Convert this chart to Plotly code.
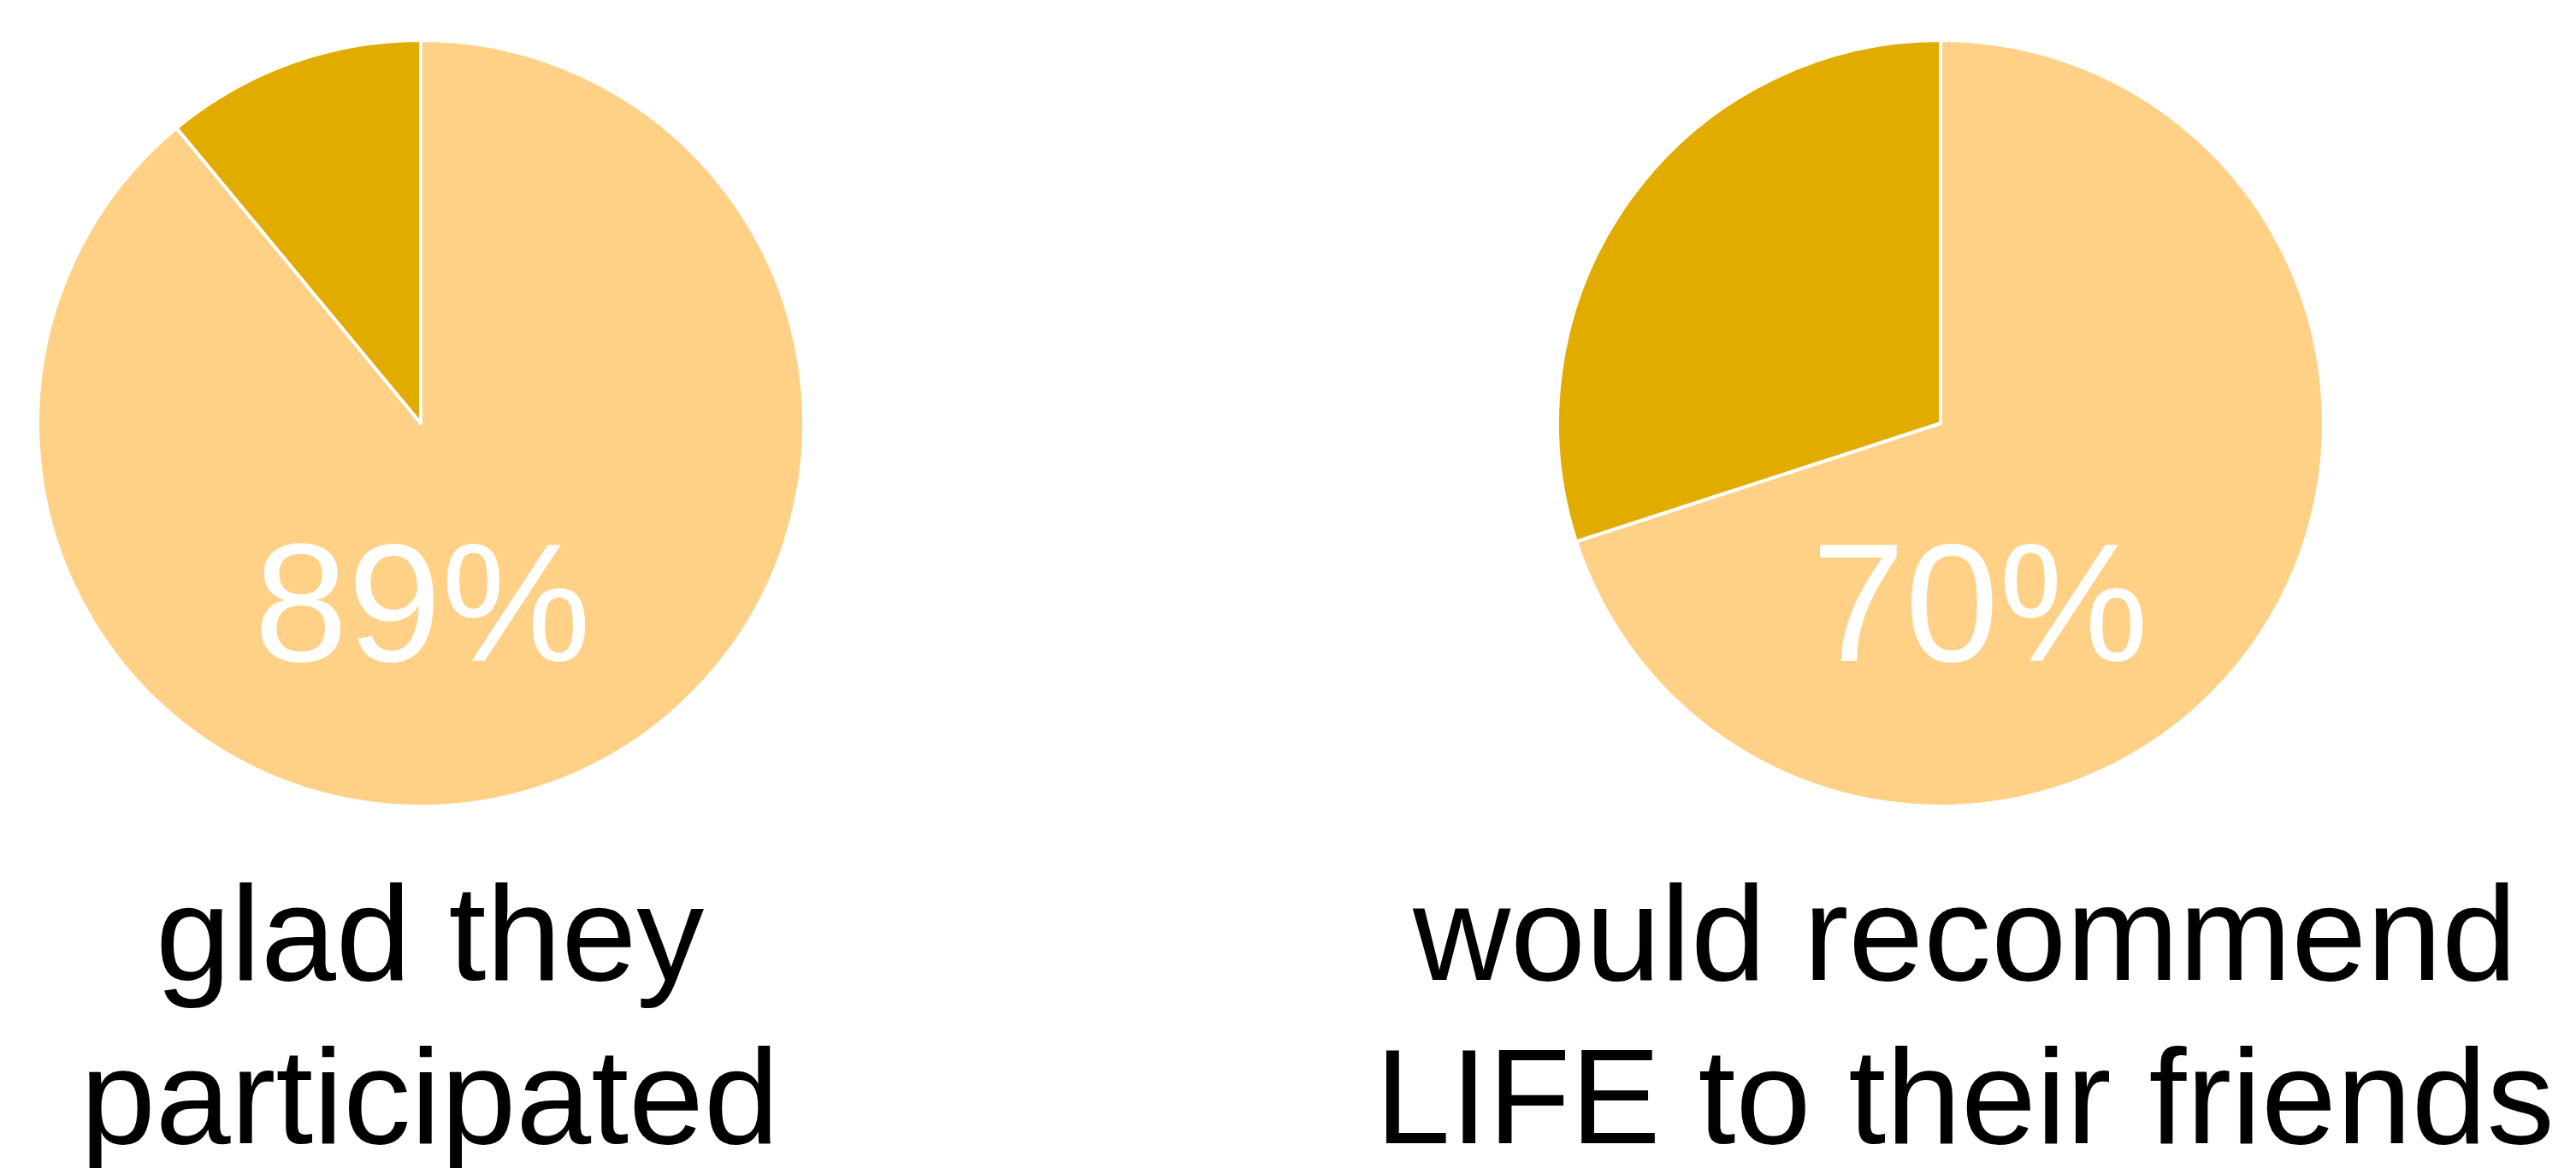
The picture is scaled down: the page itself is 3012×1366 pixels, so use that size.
import plotly.graph_objects as go

W, H = 3012, 1366

# data
slice_names = ["yes", "no"]
glad_values = [89, 11]
recommend_values = [70, 30]
pct_labels = ["89%", "70%"]
caption_left = ["glad they", "participated"]
caption_right = ["would recommend", "LIFE to their friends"]

light = "#FED186"
dark = "#E1AB00"
font = "Liberation Sans, Arial, sans-serif"

def px_x(x):
    return x / W

def px_y(y):
    return 1 - y / H

r = 448
centers = [(492, 495), (2269, 495)]

fig = go.Figure()
for (cx, cy), vals in zip(centers, [glad_values, recommend_values]):
    fig.add_trace(go.Pie(
        labels=slice_names,
        values=vals,
        sort=False,
        direction="clockwise",
        rotation=0,
        textinfo="none",
        hoverinfo="skip",
        marker=dict(colors=[light, dark], line=dict(color="white", width=4)),
        domain=dict(x=[px_x(cx - r), px_x(cx + r)], y=[px_y(cy + r), px_y(cy - r)]),
        showlegend=False,
    ))

annotations = []
# percentages
for txt, x in zip(pct_labels, [494, 2315]):
    annotations.append(dict(
        text=txt, x=px_x(x), y=px_y(705), xref="paper", yref="paper",
        xanchor="center", yanchor="middle", showarrow=False,
        font=dict(family=font, size=197, color="white"),
    ))
# captions
for lines, x in [(caption_left, 503), (caption_right, 2297)]:
    for line, base in zip(lines, [1146, 1337]):
        annotations.append(dict(
            text=line, x=px_x(x), y=px_y(base - 55), xref="paper", yref="paper",
            xanchor="center", yanchor="middle", showarrow=False,
            font=dict(family=font, size=158, color="black"),
        ))

fig.update_layout(
    width=W, height=H,
    margin=dict(l=0, r=0, t=0, b=0),
    paper_bgcolor="white", plot_bgcolor="white",
    annotations=annotations,
)

fig.write_html("out.html")
